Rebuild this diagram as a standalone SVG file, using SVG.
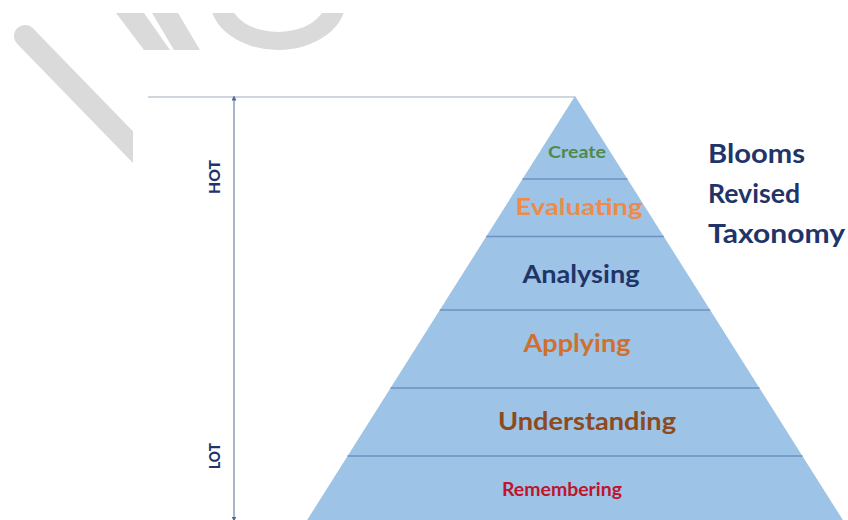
<svg xmlns="http://www.w3.org/2000/svg" width="848" height="520" viewBox="0 0 848 520">
  <defs>
    <style>
      .lbl { font-family: Lato, "Open Sans", "Liberation Sans", sans-serif; font-weight: 700; text-anchor: middle; }
      .axis { font-family: Lato, "Open Sans", "Liberation Sans", sans-serif; font-weight: 900; text-anchor: middle; fill: #1f3468; font-size: 15px; }
      .title { font-family: Lato, "Open Sans", "Liberation Sans", sans-serif; font-weight: 700; fill: #1f3468; font-size: 27px; }
      .tier { stroke: #6f90bf; stroke-width: 1.4; }
      .mark { fill: #dadada; }
    </style>
    <marker id="tick" viewBox="0 0 6 6" refX="3" refY="3" markerWidth="5" markerHeight="5" orient="auto-start-reverse">
      <path d="M0,0 L6,3 L0,6 Z" fill="#55678f"/>
    </marker>
    <clipPath id="markClip">
      <path d="M0,13 H848 V50 H133 V520 H0 Z"/>
    </clipPath>
  </defs>

  <rect width="848" height="520" fill="#ffffff"/>

  <!-- faint background mark, top left -->
  <g id="backdrop-mark" clip-path="url(#markClip)">
    <line x1="25" y1="36" x2="160" y2="175" stroke="#dadada" stroke-width="22" stroke-linecap="round"/>
    <polygon class="mark" points="116,13 144,13 170,50 144,50"/>
    <polygon class="mark" points="152,13 178,13 200,50 174,50"/>
    <path class="mark" fill-rule="evenodd" d="M210,0 A68,50 0 0 0 346,0 Z M230,0 A48,32 0 0 0 326,0 Z"/>
  </g>

  <!-- scale axis: top rule and HOT/LOT arrow -->
  <g id="scale">
    <line x1="148" y1="97" x2="575" y2="97" stroke="#a3aebd" stroke-width="1"/>
    <line x1="234" y1="98" x2="234" y2="519" stroke="#5a6a92" stroke-width="1" marker-start="url(#tick)" marker-end="url(#tick)"/>
    <text class="axis" transform="translate(219.5,177) rotate(-90)" textLength="34" lengthAdjust="spacingAndGlyphs">HOT</text>
    <text class="axis" transform="translate(219.5,456) rotate(-90)" textLength="26" lengthAdjust="spacingAndGlyphs">LOT</text>
  </g>

  <!-- pyramid body -->
  <g id="pyramid">
    <polygon points="575,96 846,525 304,525" fill="#9dc3e6"/>
  </g>

  <!-- tier separators -->
  <g id="connectors">
    <line class="tier" x1="522.5" y1="179" x2="627.5" y2="179"/>
    <line class="tier" x1="486.2" y1="236.5" x2="663.8" y2="236.5"/>
    <line class="tier" x1="439.8" y1="310" x2="710.2" y2="310"/>
    <line class="tier" x1="390.5" y1="388" x2="759.5" y2="388"/>
    <line class="tier" x1="347.5" y1="456" x2="802.5" y2="456"/>
  </g>

  <g id="create"><text class="lbl" x="577" y="158" font-size="17" fill="#4f8a4c" textLength="58" lengthAdjust="spacingAndGlyphs">Create</text></g>
  <g id="evaluating"><text class="lbl" x="579" y="215" font-size="23" fill="#ee8a4a" textLength="127" lengthAdjust="spacingAndGlyphs">Evaluating</text></g>
  <g id="analysing"><text class="lbl" x="581" y="283" font-size="24" fill="#1f3468" textLength="117" lengthAdjust="spacingAndGlyphs">Analysing</text></g>
  <g id="applying"><text class="lbl" x="577" y="352" font-size="24" fill="#d0702e" textLength="107" lengthAdjust="spacingAndGlyphs">Applying</text></g>
  <g id="understanding"><text class="lbl" x="587" y="430" font-size="24" fill="#8c4a1e" textLength="178" lengthAdjust="spacingAndGlyphs">Understanding</text></g>
  <g id="remembering"><text class="lbl" x="562" y="496" font-size="19" fill="#c0142c" textLength="120" lengthAdjust="spacingAndGlyphs">Remembering</text></g>

  <g id="title">
    <text class="title" x="708" y="163" textLength="97" lengthAdjust="spacingAndGlyphs">Blooms</text>
    <text class="title" x="708" y="203" textLength="92" lengthAdjust="spacingAndGlyphs">Revised</text>
    <text class="title" x="708" y="243" textLength="137" lengthAdjust="spacingAndGlyphs">Taxonomy</text>
  </g>
</svg>
